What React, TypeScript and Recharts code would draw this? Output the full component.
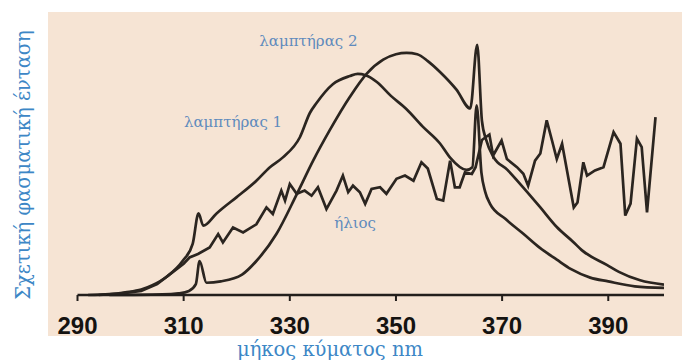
import React from "react";
import { LineChart, Line, XAxis, YAxis, ReferenceDot } from "recharts";

// ---- data (wavelength in nm, relative intensity 0-100) ----
const xTicks = [290, 310, 330, 350, 370, 390];

const lamp1Nm = [292, 296, 299, 302, 304, 307, 309.8, 311.7, 312.8, 313.7, 316.2, 317.4, 320, 323.7, 326.2, 328.7, 331.9, 333.8, 335, 338.1, 341.3, 342.8, 344.3, 346.4, 349, 352, 355, 358.3, 360.2, 363.3, 364.4, 365.2, 366.1, 366.8, 367.7, 370.6, 374, 377, 380.3, 383, 386.6, 390, 395, 400.5];
const lamp1Val = [0, 0.3, 1, 2, 3.5, 7, 12.5, 18.8, 30, 25.5, 30, 32, 36, 42, 46.9, 50.6, 58, 67, 70.5, 77.5, 80.5, 81.3, 80.8, 78.3, 73.3, 68.3, 62, 55.7, 50.5, 46, 47, 69.7, 45, 38, 33.6, 28, 22.5, 17.5, 13, 9.5, 6.4, 5, 3.2, 2.6];

const lamp2Nm = [296, 306, 309, 311, 312.3, 313, 314.3, 317, 321, 323.7, 327.5, 331.3, 334.4, 337.5, 341.3, 344.5, 347.6, 350, 352, 354, 356, 358.3, 361.4, 364, 365.3, 366.2, 367, 368.3, 371, 374, 377.2, 380.3, 383.4, 385, 389.8, 392, 396, 400.5];
const lamp2Val = [0, 0.2, 0.6, 1.5, 4, 12.5, 4.5, 5, 7.5, 12.5, 22.5, 37, 49.4, 60.5, 72.8, 81.4, 86.5, 88.5, 89, 88.5, 86, 82, 75.5, 68.6, 92, 64, 57, 51, 46, 39.5, 32.2, 25, 19.5, 16.5, 11, 8.5, 5.4, 3.8];

const sunNm = [294, 298, 302, 305, 308, 310, 311.1, 312.7, 314.9, 316.5, 317.4, 319.3, 321.2, 323.7, 325.6, 326.8, 328.4, 329.1, 330, 331.3, 332.8, 334.1, 335.3, 336.9, 338.8, 340, 341, 341.9, 343.2, 344.2, 345.4, 347, 348.2, 350.1, 351.7, 353.3, 354.8, 356, 357.7, 358.9, 360.2, 361.1, 362, 363, 364.3, 365, 366.2, 367.6, 368.3, 369.9, 370.9, 372.8, 374, 374.9, 376.2, 377.2, 378.4, 379.4, 380.3, 381.3, 383.5, 384.2, 385.3, 386, 387.5, 389.1, 391, 392.3, 393.2, 394.2, 395.4, 396.3, 397.3, 398.9];
const sunVal = [0, 0.5, 1.5, 4, 8.5, 11.5, 13.8, 15.1, 17.5, 22.4, 19.3, 24.8, 23, 26, 32.2, 29.8, 38.4, 34.7, 40.8, 37.2, 38.4, 36.5, 39.6, 31.6, 38.4, 43.9, 37.8, 40.2, 37.8, 33.5, 39, 39.6, 37.2, 42.7, 43.9, 42, 48.8, 46.5, 35.3, 34.7, 49.4, 39.6, 39.6, 45.1, 44.5, 47, 57, 59, 51.3, 56.8, 50, 47, 44.6, 40.2, 49.4, 52, 64.2, 56.8, 50, 55.6, 32.2, 34, 48.8, 43.9, 45.8, 47, 59.9, 55.6, 29.2, 33.6, 57.5, 54.4, 30.4, 65.4];

const seriesLabels = [
  { text: "λαμπτήρας 2", nm: 333.5, v: 93.5 },
  { text: "λαμπτήρας 1", nm: 319.3, v: 63.8 },
  { text: "ήλιος", nm: 342.3, v: 26.6 },
];

const toRows = (xs: number[], ys: number[]) => xs.map((x, i) => ({ x, y: ys[i] }));
const lamp1 = toRows(lamp1Nm, lamp1Val);
const lamp2 = toRows(lamp2Nm, lamp2Val);
const sun = toRows(sunNm, sunVal);

const LINE = "#2b2520";
const LABEL_BLUE = "#5f8bbd";
const TITLE_BLUE = "#3d87c6";

export default function App() {
  return (
    <div style={{ position: "absolute", left: 0, top: 0, width: 682, height: 362, background: "#ffffff", overflow: "hidden" }}>
      <div style={{ position: "absolute", left: 48, top: 12, width: 634, height: 324, background: "#f6e4d4" }} />
      <div style={{ position: "absolute", left: 0, top: 0 }}>
        <LineChart width={682} height={362} margin={{ top: 23, right: 18, bottom: 0, left: 77.5 }}>
          <XAxis
            type="number"
            dataKey="x"
            domain={[290, 400.5]}
            ticks={xTicks}
            allowDataOverflow
            height={67}
            axisLine={{ stroke: "#231f1c", strokeWidth: 2.6 }}
            tickLine={{ stroke: "#231f1c", strokeWidth: 2 }}
            tickSize={6}
            tickMargin={16}
            tick={{ fill: "#151311", fontSize: 24, fontWeight: 700, fontFamily: "Liberation Sans, Arial, sans-serif" }}
          />
          <YAxis
            type="number"
            domain={[0, 100]}
            width={0}
            tick={false}
            tickLine={false}
            axisLine={{ stroke: "#231f1c", strokeWidth: 3 }}
          />
          <Line data={lamp1} dataKey="y" type="monotone" stroke={LINE} strokeWidth={2.7} dot={false} isAnimationActive={false} />
          <Line data={lamp2} dataKey="y" type="monotone" stroke={LINE} strokeWidth={2.7} dot={false} isAnimationActive={false} />
          <Line data={sun} dataKey="y" type="linear" stroke={LINE} strokeWidth={2.7} dot={false} isAnimationActive={false} />
          {seriesLabels.map((l) => (
            <ReferenceDot
              key={l.text}
              x={l.nm}
              y={l.v}
              r={0}
              fill="none"
              stroke="none"
              ifOverflow="visible"
              label={{ value: l.text, position: "center", fill: LABEL_BLUE, fontSize: 15, fontFamily: "DejaVu Serif, serif" }}
            />
          ))}
        </LineChart>
      </div>
      <svg width={682} height={362} style={{ position: "absolute", left: 0, top: 0, pointerEvents: "none" }}>
        <text x={330} y={356} textAnchor="middle" fill={TITLE_BLUE} fontSize={19.5} fontFamily="DejaVu Serif, serif">
          μήκος κύματος nm
        </text>
        <text transform="translate(30,165) rotate(-90)" textAnchor="middle" fill={TITLE_BLUE} fontSize={19.5} fontFamily="DejaVu Serif, serif">
          Σχετική φασματική ένταση
        </text>
      </svg>
    </div>
  );
}
